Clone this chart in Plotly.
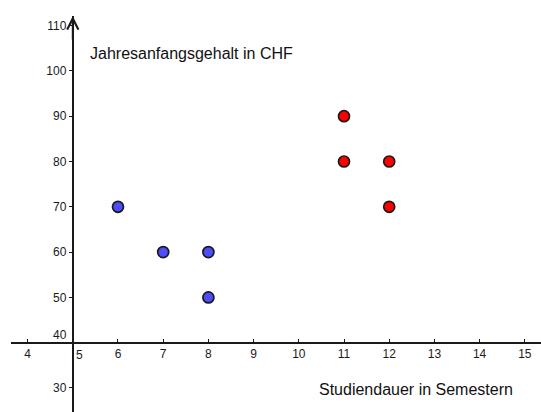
import plotly.graph_objects as go

# Data
blue_x = [6, 7, 8, 8]
blue_y = [70, 60, 60, 50]
red_x = [11, 11, 12, 12]
red_y = [90, 80, 80, 70]

x_tickvals = [4, 6, 7, 8, 9, 10, 11, 12, 13, 14, 15]
y_tickvals = [30, 50, 60, 70, 80, 90, 100, 110]
origin_x = 5
origin_y = 40
y_title = "Jahresanfangsgehalt in CHF"
x_title = "Studiendauer in Semestern"

W, H = 541, 412
font = "Liberation Sans, Arial, sans-serif"

fig = go.Figure()
fig.add_trace(go.Scatter(
    x=blue_x, y=blue_y, mode="markers", cliponaxis=False,
    marker=dict(size=11, color="#4d4dff", line=dict(color="#1a1a1a", width=1.7)),
    hoverinfo="x+y", showlegend=False))
fig.add_trace(go.Scatter(
    x=red_x, y=red_y, mode="markers", cliponaxis=False,
    marker=dict(size=11, color="#ff0000", line=dict(color="#1a1a1a", width=1.7)),
    hoverinfo="x+y", showlegend=False))

x_dom = [11 / W, 1]
y_dom = [0, 1 - 16 / H]
x_range = [3.633, 15.358]
y_range = [24.70, 112.12]
x_pos = (origin_x - x_range[0]) / (x_range[1] - x_range[0]) * (x_dom[1] - x_dom[0]) + x_dom[0]
y_pos = (origin_y - y_range[0]) / (y_range[1] - y_range[0]) * (y_dom[1] - y_dom[0]) + y_dom[0]

tick_font = dict(family=font, size=12, color="#1a1a1a")

fig.update_layout(
    width=W, height=H,
    margin=dict(l=0, r=0, t=0, b=0),
    paper_bgcolor="white", plot_bgcolor="white",
    font=dict(family=font, size=12, color="#1a1a1a"),
    xaxis=dict(range=x_range, domain=x_dom, anchor="free", position=y_pos,
               showgrid=False, zeroline=False, showline=True, linecolor="#1a1a1a",
               linewidth=2, ticks="inside", ticklen=3, tickwidth=1, tickcolor="#1a1a1a",
               tickvals=x_tickvals, ticktext=[str(v) for v in x_tickvals],
               tickfont=tick_font),
    yaxis=dict(range=y_range, domain=y_dom, anchor="free", position=x_pos,
               showgrid=False, zeroline=False, showline=True, linecolor="#1a1a1a",
               linewidth=2, ticks="outside", ticklen=3, tickwidth=1, tickcolor="#1a1a1a",
               tickvals=y_tickvals, ticktext=[str(v) for v in y_tickvals],
               tickfont=tick_font),
    annotations=[
        dict(x=origin_x, y=origin_y, xref="x", yref="y", text=str(origin_x),
             showarrow=False, xanchor="left", yanchor="top", xshift=1, yshift=-3,
             font=tick_font),
        dict(x=origin_x, y=origin_y, xref="x", yref="y", text=str(origin_y),
             showarrow=False, xanchor="right", yanchor="bottom", xshift=-4, yshift=-1,
             font=tick_font),
        dict(x=origin_x, y=y_range[1], xref="x", yref="y", ax=0, ay=25,
             showarrow=True, arrowhead=5, arrowsize=1.1, arrowwidth=2,
             arrowcolor="#1a1a1a", text=""),
        dict(x=88 / W, y=1 - 54 / H, xref="paper", yref="paper", text=y_title,
             showarrow=False, xanchor="left", yanchor="middle",
             font=dict(family=font, size=16, color="#111111")),
        dict(x=317 / W, y=1 - 389 / H, xref="paper", yref="paper", text=x_title,
             showarrow=False, xanchor="left", yanchor="middle",
             font=dict(family=font, size=16, color="#111111")),
    ],
)

fig.write_html("out.html", config={"displayModeBar": False},
               post_script="document.body.style.margin='0';document.body.style.overflow='hidden';")
